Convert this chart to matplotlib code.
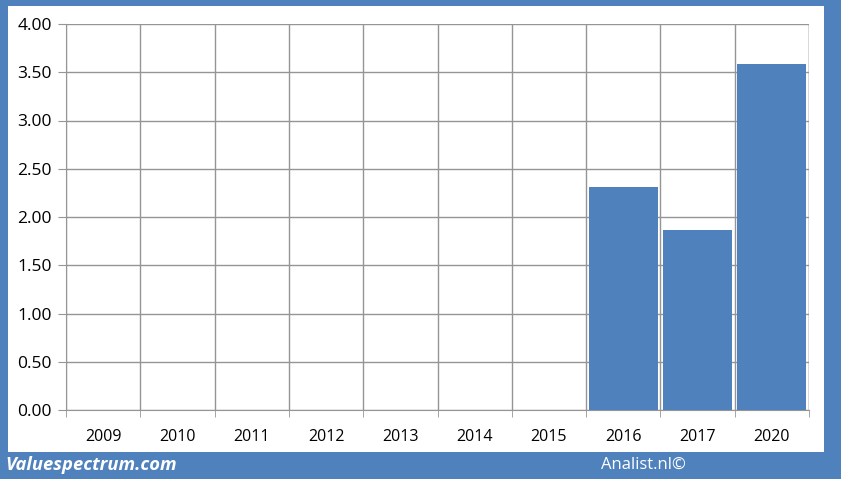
import numpy as np
import matplotlib
matplotlib.use('Agg')
from matplotlib import pyplot as plt
from matplotlib.patches import Rectangle

years = ['2009', '2010', '2011', '2012', '2013', '2014', '2015', '2016', '2017', '2020']
values = [0, 0, 0, 0, 0, 0, 0, 2.31, 1.865, 3.585]
yticks = [0, 0.5, 1.0, 1.5, 2.0, 2.5, 3.0, 3.5, 4.0]

blue = '#4F81BD'
grid = '#959595'
plt.rcParams['font.family'] = ['Open Sans', 'DejaVu Sans']

fig = plt.figure(figsize=(8.41, 4.79), dpi=100)
fig.patch.set_facecolor(blue)
W, H = 841.0, 479.0
fig.patches.append(Rectangle((8 / W, 1 - 452 / H), (824 - 8) / W, (452 - 6) / H,
                             transform=fig.transFigure, facecolor='white',
                             edgecolor='none', zorder=-10))

ax = fig.add_axes([66 / W, 1 - 410 / H, (809 - 66) / W, (410 - 24) / H])
ax.set_zorder(5)
ax.set_facecolor('none')
x = np.arange(len(years))
ax.bar(x, values, width=0.93, color=blue, zorder=3)
ax.set_xlim(-0.5, len(years) - 0.5)
ax.set_ylim(0, 4.0)
ax.set_yticks(yticks)
ax.set_yticklabels(['%.2f' % v for v in yticks], fontsize=12.5)
ax.set_xticks(x)
ax.set_xticklabels(years, fontsize=11.5)
ax.set_xticks(np.arange(len(years) + 1) - 0.5, minor=True)
ax.tick_params(axis='x', which='major', length=0, pad=14)
ax.tick_params(axis='x', which='minor', length=5, color=grid, direction='out')
ax.tick_params(axis='y', length=6, color=grid, pad=4)
ax.grid(True, axis='y', color=grid, linewidth=1, zorder=1)
ax.grid(True, axis='x', which='minor', color=grid, linewidth=1, zorder=1)
for side in ['left', 'bottom']:
    ax.spines[side].set_color(grid)
for side in ['top', 'right']:
    ax.spines[side].set_visible(False)
ax.axvline(len(years) - 0.5, color=grid, linewidth=1, zorder=1)

fig.text(5 / W, 1 - 465 / H, 'Valuespectrum.com', color='white', fontsize=13.2,
         fontweight='bold', fontstyle='italic', va='center', ha='left', zorder=6)
fig.text(601 / W, 1 - 465 / H, 'Analist.nl\u00a9', color='white', fontsize=12,
         va='center', ha='left', zorder=6)

fig.savefig('out.png', dpi=100, facecolor=blue)
